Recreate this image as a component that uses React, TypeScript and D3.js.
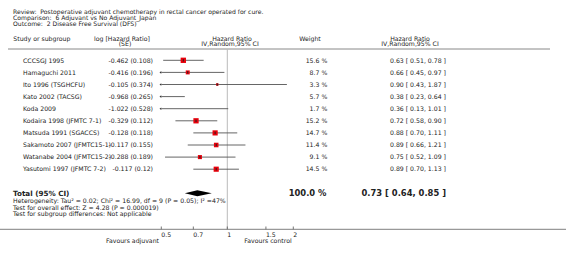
import React from "react";
import * as d3 from "d3";

const studies = [
  "CCCSGJ 1995",
  "Hamaguchi 2011",
  "Ito 1996 (TSGHCFU)",
  "Kato 2002 (TACSG)",
  "Koda 2009",
  "Kodaira 1998 (JFMTC 7-1)",
  "Matsuda 1991 (SGACCS)",
  "Sakamoto 2007 (JFMTC15-1)",
  "Watanabe 2004 (JFMTC15-2)",
  "Yasutomi 1997 (JFMTC 7-2)",
];
const logHR = ["-0.462", "-0.416", "-0.105", "-0.968", "-1.022", "-0.329", "-0.128", "-0.117", "-0.288", "-0.117"];
const seHR = ["0.108", "0.196", "0.374", "0.265", "0.528", "0.112", "0.118", "0.155", "0.189", "0.12"];
const weights = [15.6, 8.7, 3.3, 5.7, 1.7, 15.2, 14.7, 11.4, 9.1, 14.5];
const hr = [0.63, 0.66, 0.9, 0.38, 0.36, 0.72, 0.88, 0.89, 0.75, 0.89];
const lower = [0.51, 0.45, 0.43, 0.23, 0.13, 0.58, 0.7, 0.66, 0.52, 0.7];
const upper = [0.78, 0.97, 1.87, 0.64, 1.01, 0.9, 1.11, 1.21, 1.09, 1.13];
const total = { hr: 0.73, lo: 0.64, hi: 0.85, weight: "100.0 %" };
const tickValues = [0.5, 0.7, 1, 1.5, 2];
const headerLines = [
  "Review:  Postoperative adjuvant chemotherapy in rectal cancer operated for cure.",
  "Comparison:  6 Adjuvant vs No Adjuvant_Japan",
  "Outcome:  2 Disease Free Survival (DFS)",
];
const footLines = [
  "Heterogeneity: Tau\u00b2 = 0.02; Chi\u00b2 = 16.99, df = 9 (P = 0.05); I\u00b2 =47%",
  "Test for overall effect: Z = 4.28 (P = 0.000019)",
  "Test for subgroup differences: Not applicable",
];

const FONT = "'DejaVu Sans', Verdana, sans-serif";
const fmt = (v: number) => v.toFixed(2);

export default function App() {
  const W = 566, H = 253;
  const x = d3.scaleLog().domain([0.5, 2]).range([161.3, 293.3]);
  const y = d3.scaleLinear().domain([0, studies.length - 1]).range([60.3, 169.2]);
  const totalY = 193.3;
  const fs = 6.2;
  const txt = "#222";
  const [dLo, dHi] = x.domain();

  return (
    <svg width={W} height={H} style={{ position: "absolute", left: 0, top: 0, background: "#fff" }} fontFamily={FONT}>
      {headerLines.map((l, i) => (
        <text key={i} x={13} y={14 + i * 6.1} fontSize={6.1} fill={txt} xmlSpace="preserve">{l}</text>
      ))}
      {/* column headers */}
      <g fontSize={fs} fill={txt}>
        <text x={13.3} y={40.5}>Study or subgroup</text>
        <text x={122} y={40.5} textAnchor="middle">log [Hazard Ratio]</text>
        <text x={125} y={46} textAnchor="middle">(SE)</text>
        <text x={232} y={40.5} textAnchor="middle">Hazard Ratio</text>
        <text x={230} y={46} textAnchor="middle">IV,Random,95% CI</text>
        <text x={310} y={40.5} textAnchor="middle">Weight</text>
        <text x={410} y={40.5} textAnchor="middle">Hazard Ratio</text>
        <text x={410} y={46} textAnchor="middle">IV,Random,95% CI</text>
      </g>
      <line x1={8} x2={550} y1={49} y2={49} stroke="#888" strokeWidth={1} />
      {/* reference line at 1 */}
      <line x1={x(1)} x2={x(1)} y1={49} y2={229} stroke="#bbb" strokeWidth={1} />
      {/* rows */}
      {studies.map((s, i) => {
        const cy = y(i);
        const lo = Math.max(lower[i], dLo);
        const hi = Math.min(upper[i], dHi);
        const size = Math.sqrt(weights[i]) * 1.35;
        const inRange = hr[i] >= dLo && hr[i] <= dHi;
        return (
          <g key={s}>
            <text x={23} y={cy + 2.2} fontSize={fs} fill={txt}>{s}</text>
            <text x={153} y={cy + 2.2} fontSize={fs} fill={txt} textAnchor="end">{`${logHR[i]} (${seHR[i]})`}</text>
            <line x1={x(lo)} x2={x(hi)} y1={cy} y2={cy} stroke="#555" strokeWidth={0.9} />
            {lower[i] < dLo && (
              <path d={`M${x(dLo)},${cy - 1.3}L${x(dLo) - 1.8},${cy}L${x(dLo)},${cy + 1.3}Z`} fill="#333" />
            )}
            {upper[i] > dHi && (
              <path d={`M${x(dHi)},${cy - 1.3}L${x(dHi) + 1.8},${cy}L${x(dHi)},${cy + 1.3}Z`} fill="#333" />
            )}
            {inRange && (
              <>
                <rect x={x(hr[i]) - size / 2} y={cy - size / 2} width={size} height={size} fill="#e8000b" />
                <rect x={x(hr[i]) - 0.5} y={cy - 1.2} width={1} height={2.4} fill="#222" />
              </>
            )}
            <text x={327.3} y={cy + 2.2} fontSize={fs} fill={txt} textAnchor="end">{`${weights[i].toFixed(1)} %`}</text>
            <text x={446} y={cy + 2.2} fontSize={fs} fill={txt} textAnchor="end">{`${fmt(hr[i])} [ ${fmt(lower[i])}, ${fmt(upper[i])} ]`}</text>
          </g>
        );
      })}
      {/* total */}
      <text x={13} y={totalY + 2.6} fontSize={7.2} fontWeight="bold" fill={txt}>Total (95% CI)</text>
      <path
        d={`M${x(total.lo)},${totalY}L${x(total.hr)},${totalY - 3}L${x(total.hi)},${totalY}L${x(total.hr)},${totalY + 3}Z`}
        fill="#000"
      />
      <text x={326.5} y={totalY + 2.8} fontSize={8.4} fontWeight="bold" fill={txt} textAnchor="end">{total.weight}</text>
      <text x={446} y={totalY + 2.8} fontSize={8.4} fontWeight="bold" fill={txt} textAnchor="end">{`${fmt(total.hr)} [ ${fmt(total.lo)}, ${fmt(total.hi)} ]`}</text>
      {footLines.map((l, i) => (
        <text key={i} x={13} y={202.8 + i * 6.7} fontSize={fs} fill={txt}>{l}</text>
      ))}
      {/* axis */}
      <line x1={0} x2={W} y1={229.3} y2={229.3} stroke="#999" strokeWidth={1.2} />
      {tickValues.map((t) => (
        <g key={t}>
          <line x1={x(t)} x2={x(t)} y1={226.5} y2={229.3} stroke="#555" strokeWidth={0.8} />
          <text x={x(t)} y={236.8} fontSize={fs} fill={txt}>{String(t)}</text>
        </g>
      ))}
      <text x={159} y={243.2} fontSize={fs} fill={txt} textAnchor="end">Favours adjuvant</text>
      <text x={268} y={243.2} fontSize={fs} fill={txt} textAnchor="middle">Favours control</text>
    </svg>
  );
}
